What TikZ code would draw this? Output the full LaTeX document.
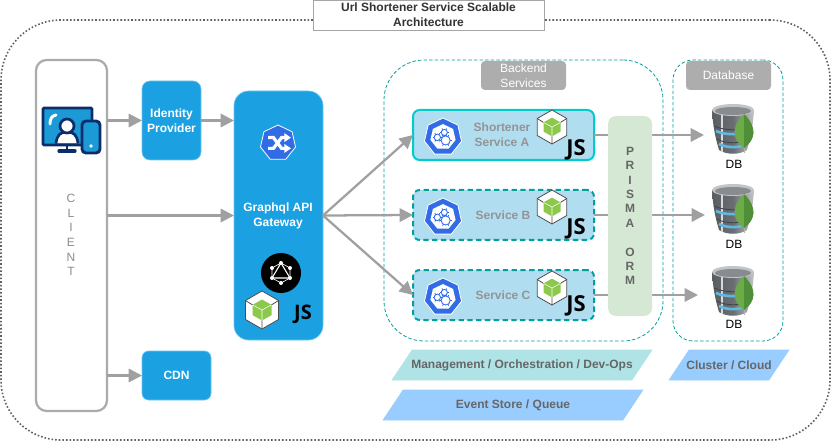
\documentclass[tikz,border=0pt]{standalone}
\usepackage{fontspec}
\setmainfont{Liberation Sans}
\newfontfamily\jsfont{Open Sans}
\usetikzlibrary{arrows.meta,shapes.geometric,calc}
\definecolor{azure}{HTML}{1BA1E2}
\definecolor{azureedge}{HTML}{6FC5F0}
\definecolor{flow}{HTML}{A0A0A0}
\definecolor{clientline}{HTML}{ABABAB}
\definecolor{teal}{HTML}{00A0A0}
\definecolor{svcfill}{HTML}{B1DDF0}
\definecolor{svcA}{HTML}{00CCCC}
\definecolor{prismafill}{HTML}{D5E8D4}
\definecolor{tagfill}{HTML}{ADADAD}
\definecolor{mgmtfill}{HTML}{B0E3E6}
\definecolor{skyfill}{HTML}{99CCFF}
\definecolor{kube}{HTML}{326CE5}
\definecolor{navy}{HTML}{0B2E6B}
\definecolor{screen}{HTML}{1B9AD6}
\definecolor{nodegreen}{HTML}{8CC84B}
\definecolor{leaf}{HTML}{6CAC48}
\definecolor{leafdark}{HTML}{4F8F37}
\definecolor{dbdark}{HTML}{6A6E73}
\definecolor{dblight}{HTML}{C2C5C8}
\newcommand{\pxbox}[6]{\node[#6,minimum width={(#4-#2)*0.75pt},minimum height={(#5-#3)*0.75pt}] (#1) at ({(#2+#4)/2},{(#3+#5)/2})}
\tikzset{
  x=0.75pt,y=-0.75pt,
  boxbase/.style={inner sep=0pt,outer sep=0pt,align=center,font=\fontsize{9}{11.2}\selectfont},
  blue box/.style={boxbase,fill=azure,draw=azureedge,line width=.5pt,text=white,font=\fontsize{9}{11.2}\selectfont\bfseries},
  tag box/.style={boxbase,fill=tagfill,draw=none,rounded corners=3pt,text=white},
  svc box/.style={boxbase,fill=svcfill,rounded corners=5pt,line width=1.5pt},
  container/.style={boxbase,draw=teal,dashed,dash pattern=on 2.6pt off 1.6pt,line width=.6pt},
  flow line/.style={draw=flow,line width=1.7pt,-{Triangle[length=10pt,width=10pt]}},
  svc label/.style={text=black!42,font=\fontsize{9}{11.2}\selectfont\bfseries,align=center,inner sep=0pt},
  band label/.style={text=black!60,font=\fontsize{9}{11}\selectfont\bfseries,inner sep=0pt},
  band/.style={draw=white,line width=.4pt},
  js mark/.style={inner sep=0pt,font=\jsfont\bfseries\fontsize{#1}{#1}\selectfont},
  cube/.pic={
    \begin{scope}[scale=#1]
    \fill[white] (0,-1) -- (.87,-.5) -- (.87,.5) -- (0,1) -- (-.87,.5) -- (-.87,-.5) -- cycle;
    \fill[nodegreen] (0,-.55) -- (.5,-.27) -- (.5,.27) -- (0,.55) -- (-.5,.27) -- (-.5,-.27) -- cycle;
    \draw[white,line width=.4pt] (-.5,-.27) -- (0,0) -- (.5,-.27) (0,0) -- (0,.55);
    \draw[black!70,line width=.6pt,line join=round] (0,-1) -- (.87,-.5) -- (.87,.5) -- (0,1) -- (-.87,.5) -- (-.87,-.5) -- cycle;
    \draw[black!70,line width=.6pt] (-.87,-.5) -- (-.5,-.27) (.87,-.5) -- (.5,-.27) (0,1) -- (0,.55);
    \end{scope}
  },
  hepta/.pic={
    \begin{scope}[scale=#1]
    \fill[kube,draw=white,line width=.6pt,line join=round]
      (-90:1) -- (-38.6:1) -- (12.9:1) -- (64.3:1) -- (115.7:1) -- (167.1:1) -- (-141.4:1) -- cycle;
    \end{scope}
  },
  gears/.pic={
    \begin{scope}[scale=#1]
    \fill[white] (-90:.68) -- (-38.6:.68) -- (12.9:.68) -- (64.3:.68) -- (115.7:.68) -- (167.1:.68) -- (-141.4:.68) -- cycle;
    \foreach \cx/\cy/\r in {-.3/.02/.17,.07/-.24/.16,.14/.18/.24}{
      \draw[kube,line width=.65pt] (\cx,\cy) circle (\r);
      \foreach \a in {0,60,...,300}
        \draw[kube,line width=.65pt] ($(\cx,\cy)+(\a:\r)$) -- ($(\cx,\cy)+(\a:\r+.08)$);
    }
    \end{scope}
  },
  shuffle/.pic={
    \begin{scope}[scale=#1]
    \draw[white,line width=2.4pt] (-.55,-.3) -- (-.25,-.3) -- (.2,.3) -- (.42,.3);
    \draw[white,line width=2.4pt] (-.55,.3) -- (-.25,.3) -- (.2,-.3) -- (.42,-.3);
    \fill[white] (.35,-.55) -- (.72,-.3) -- (.35,-.05) -- cycle;
    \fill[white] (.35,.05) -- (.72,.3) -- (.35,.55) -- cycle;
    \end{scope}
  },
  graphqlmark/.pic={
    \fill[black] (0,0) circle (20);
    \draw[white,line width=.5pt] (0,-10) -- (9,-5) -- (9,5) -- (0,10) -- (-9,5) -- (-9,-5) -- cycle;
    \draw[white,line width=.8pt,line join=round] (0,-10) -- (9,5) -- (-9,5) -- cycle;
    \foreach \p in {(0,-10),(9,-5),(9,5),(0,10),(-9,5),(-9,-5)} \fill[white] \p circle (2);
  },
  devices/.pic={
    \draw[navy,fill=screen,line width=1.9pt,rounded corners=.6pt] (43,108) rectangle (92,145);
    \draw[navy,line width=2pt] (67,146) -- (67,151);
    \draw[navy,line width=2.4pt,line cap=round] (59,151) -- (75,151);
    \draw[white,line width=2.2pt,line cap=round] (50,124) .. controls (50,118) and (52,116) .. (56,115);
    \fill[white] (55,143) .. controls (56,135) and (60,132) .. (67,132) .. controls (74,132) and (78,135) .. (79,143) -- cycle;
    \draw[navy,line width=2pt] (56,143.5) .. controls (57,135) and (60,132) .. (67,132) .. controls (74,132) and (77,135) .. (78,143.5);
    \draw[navy,fill=white,line width=2pt] (67,126) circle (7);
    \draw[navy,fill=screen,line width=2.2pt,rounded corners=3pt] (82,121) rectangle (100,153);
    \fill[white] (91,146) circle (1.8);
  },
  dbstack/.pic={
    \shade[left color=dbdark!85!black,right color=dbdark!40!white,middle color=dbdark]
      (-21,-20) .. controls (-20,-2) and (-17,10) .. (-14,20) .. controls (-6,25) and (6,25) .. (14,20) .. controls (17,10) and (20,-2) .. (21,-20) -- cycle;
    \fill[white!85!black] (-12,-20) rectangle (-10,22);
    \draw[screen!70!white,line width=2pt] (-17,1) .. controls (-8,5) and (4,5) .. (12,2);
    \draw[screen!70!white,line width=2pt] (-14,14) .. controls (-6,18) and (4,18) .. (12,15);
    \draw[dbdark!60!black,line width=.6pt] (-19,-4) .. controls (-8,1) and (8,1) .. (19,-4);
    \draw[dbdark!60!black,line width=.6pt] (-16,9) .. controls (-8,14) and (8,14) .. (16,9);
    \fill[dblight] (0,-20) ellipse (21 and 6);
    \fill[dbdark!80!white] (0,-19) ellipse (18 and 4);
    \fill[leaf] (11,-16) .. controls (25,-2) and (22,10) .. (11,18) .. controls (0,10) and (-3,-2) .. (11,-16) -- cycle;
    \fill[leafdark] (11,-16) .. controls (25,-2) and (22,10) .. (11,18) -- cycle;
    \draw[white!70!black,line width=.4pt] (11,18) -- (11,23);
  },
}
\begin{document}
\begin{tikzpicture}
\useasboundingbox (0,0) rectangle (832,442);
% outer frame
\pxbox{frame}{1}{20}{830}{440}{boxbase,draw=black!62,line width=1.2pt,dash pattern=on 1.2pt off 1.5pt,rounded corners=45pt}{};
\node[boxbase,draw=black!35,fill=white,line width=.6pt,minimum width=231*.75pt,minimum height=30*.75pt,font=\fontsize{9}{11.2}\selectfont\bfseries,text=black!80] (title) at (428.5,15) {Url Shortener Service Scalable\\Architecture};
% containers
\pxbox{backend}{384}{60}{663}{341}{container,rounded corners=30pt}{};
\pxbox{database}{673}{60}{783}{341}{container,rounded corners=15pt}{};
\pxbox{backendtag}{481}{61}{566}{90}{tag box}{Backend\\Services};
\pxbox{databasetag}{686}{61}{771}{90}{tag box}{Database};
% client
\pxbox{client}{36}{60}{107}{411}{boxbase,draw=clientline,line width=1.7pt,rounded corners=8pt}{};
\node[inner sep=0pt,text=black!45,align=center,font=\fontsize{9}{11}\selectfont] (clientlabel) at (71,235) {C\\L\\I\\E\\N\\T};
% blue boxes
\pxbox{idp}{142}{81}{201}{160}{blue box,rounded corners=6pt}{Identity\\Provider};
\pxbox{cdn}{142}{351}{211}{400}{blue box,rounded corners=5pt}{CDN};
\pxbox{gw}{234}{91}{323}{340}{blue box,rounded corners=11pt}{};
\node[inner sep=0pt,text=white,align=center,font=\fontsize{9}{11.2}\selectfont\bfseries] (gwlabel) at (278,215.5) {Graphql API\\Gateway};
% db anchors
\coordinate (dbAin) at (704,135);
\coordinate (dbBin) at (705,215);
\coordinate (dbCin) at (698,295);
% services
\pxbox{svcAbox}{413}{110}{594}{160}{svc box,draw=svcA}{};
\pxbox{svcBbox}{413}{190}{594}{240}{svc box,draw=teal,dashed,dash pattern=on 4pt off 2.6pt}{};
\pxbox{svcCbox}{413}{270}{594}{320}{svc box,draw=teal,dashed,dash pattern=on 4pt off 2.6pt}{};
% connectors
\draw[flow line] (client.east |- idp.west) -- (idp.west);
\draw[flow line] (idp.east) -- (idp.east -| gw.west);
\draw[flow line] (client.east |- gw.west) -- (gw.west);
\draw[flow line] (client.east |- cdn.west) -- (cdn.west);
\draw[flow line] (gw.east) -- (svcAbox.west);
\draw[flow line] (gw.east) -- (svcBbox.west);
\draw[flow line] (gw.east) -- (svcCbox.west);
\draw[flow line] (svcAbox.east) -- (dbAin);
\draw[flow line] (svcBbox.east) -- (dbBin);
\draw[flow line] (svcCbox.east) -- (dbCin);
% prisma
\pxbox{prisma}{608}{116}{652}{316}{boxbase,fill=prismafill,rounded corners=6pt}{};
\node[inner sep=0pt,text=black!60,align=center,font=\fontsize{9}{10.8}\selectfont\bfseries] (prismalabel) at (630,216) {P\\R\\I\\S\\M\\A\\[10.8pt]O\\R\\M};
% service labels
\node[svc label] (svcAlabel) at (502,135) {Shortener\\Service A};
\node[svc label] (svcBlabel) at (503,215) {Service B};
\node[svc label] (svcClabel) at (503,295) {Service C};
% service icons
\foreach \yy in {137,217,297}{
  \pic at (443,\yy) {hepta=19};
  \pic at (443,\yy) {gears=19};
}
\foreach \yy in {127,207,288}{
  \pic at (552,\yy) {cube=17};
}
\node[js mark=16.5] (jsA) at (576,150) {JS};
\node[js mark=16.5] (jsB) at (576,229) {JS};
\node[js mark=16.5] (jsC) at (576,306) {JS};
% gateway icons
\pic at (278,143) {hepta=18};
\pic at (278,143) {shuffle=18};
\pic at (281,273) {graphqlmark};
\pic at (262,310) {cube=19};
\node[js mark=15] (jsGw) at (303,314) {JS};
% client icon
\pic {devices};
% db
\pic at (733,130) {dbstack};
\pic at (733,210) {dbstack};
\pic at (733,292) {dbstack};
\node[inner sep=0pt,font=\fontsize{9}{11}\selectfont] (dbA) at (734,164) {DB};
\node[inner sep=0pt,font=\fontsize{9}{11}\selectfont] (dbB) at (734,244) {DB};
\node[inner sep=0pt,font=\fontsize{9}{11}\selectfont] (dbC) at (734,324) {DB};
% bands
\fill[band,mgmtfill] (412,350) -- (652,350) -- (632,380) -- (392,380) -- cycle;
\node[band label] (mgmt) at (522,365) {Management / Orchestration / Dev-Ops};
\fill[band,skyfill] (403,390) -- (643,390) -- (623,420) -- (383,420) -- cycle;
\node[band label] (event) at (513,405) {Event Store / Queue};
\fill[band,skyfill] (689,350) -- (789,350) -- (769,380) -- (669,380) -- cycle;
\node[band label] (cloud) at (729,365) {Cluster / Cloud};
\end{tikzpicture}
\end{document}
